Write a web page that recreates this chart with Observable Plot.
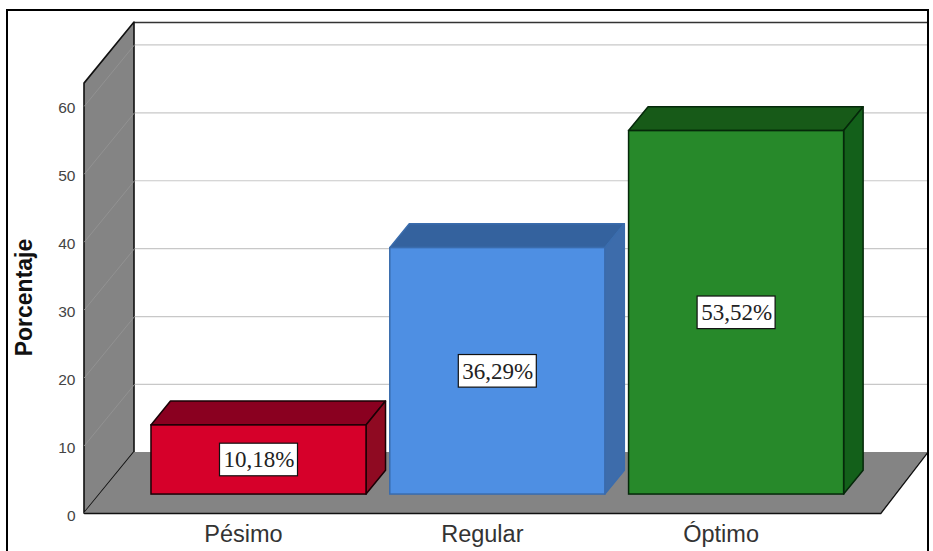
<!DOCTYPE html>
<html lang="es">
<head>
<meta charset="utf-8">
<script src="https://cdn.jsdelivr.net/npm/d3@7"></script>
<script src="https://cdn.jsdelivr.net/npm/@observablehq/plot@0.6"></script>
<style>
  html, body { margin: 0; padding: 0; background: #fff; overflow: hidden; }
  #chart { position: relative; width: 933px; height: 551px; overflow: hidden; }
  #chart svg { display: block; }
  #border { position: absolute; left: 6px; top: 9px; width: 919px; height: 600px; border: 2px solid #000; pointer-events: none; }
</style>
</head>
<body>
<div id="chart"><div id="border"></div></div>
<script>
// Survey results: share of answers per rating
const categories = ["Pésimo", "Regular", "Óptimo"];
const percentages = [10.18, 36.29, 53.52];
const valueLabels = ["10,18%", "36,29%", "53,52%"];
const yTicks = [0, 10, 20, 30, 40, 50, 60];

const frontColors = ["#d6002a", "#4e8fe3", "#27892a"];
const topColors = ["#8a0020", "#34629e", "#175a18"];
const sideColors = ["#8f0a22", "#3d6cab", "#13601a"];
const edgeColors = ["#1a0005", "#3a6cad", "#05280a"];

// Oblique projection: a point at depth d (0 front, 1 back) shifts by d * (depthX, depthY)
const depthX = 50 / 240;
const depthY = 9;
const slotStep = 0.995;
const floorLeft = -0.1625;
const floorRight = 3.155;
const backRight = floorRight + depthX - 0.012;
const wallTop = 63.3;
const barFront = 0.31;
const barBack = 0.7;
const barHalf = 0.448;
const boxHalfX = 0.1625;
const boxHalfY = 2.4;

const bars = categories.map((name, i) => ({
  name,
  value: percentages[i],
  label: valueLabels[i],
  center: 0.5 + i * slotStep,
  front: frontColors[i],
  top: topColors[i],
  side: sideColors[i],
  edge: edgeColors[i]
}));

function wallShape() {
  return [
    {x: floorLeft, y1: 0, y2: wallTop},
    {x: floorLeft + depthX, y1: depthY, y2: wallTop + depthY}
  ];
}

function floorShape() {
  return [
    {y: 0, x1: floorLeft, x2: floorRight},
    {y: depthY, x1: floorLeft + depthX, x2: backRight}
  ];
}

// The three visible faces of a bar
function barMarks(b) {
  const left = b.center - barHalf + barFront * depthX;
  const right = b.center + barHalf + barFront * depthX;
  const shiftX = (barBack - barFront) * depthX;
  const shiftY = (barBack - barFront) * depthY;
  const base = barFront * depthY;
  const top = base + b.value;
  const line = {stroke: b.edge, strokeWidth: 1.5};
  return [
    Plot.areaX([
      {y: top, x1: left, x2: right},
      {y: top + shiftY, x1: left + shiftX, x2: right + shiftX}
    ], {y: "y", x1: "x1", x2: "x2", fill: b.top, ...line, curve: "linear"}),
    Plot.areaY([
      {x: right, y1: base, y2: top},
      {x: right + shiftX, y1: base + shiftY, y2: top + shiftY}
    ], {x: "x", y1: "y1", y2: "y2", fill: b.side, ...line, curve: "linear"}),
    Plot.rect([b], {
      x1: left, x2: right, y1: base, y2: top,
      fill: b.front, ...line
    })
  ];
}

// White value box centred on the front face of a bar
function labelMarks(b) {
  const cx = b.center + barFront * depthX;
  const cy = barFront * depthY + b.value / 2;
  return [
    Plot.rect([b], {
      x1: cx - boxHalfX, x2: cx + boxHalfX,
      y1: cy - boxHalfY, y2: cy + boxHalfY,
      fill: "#fff", stroke: "#111", strokeWidth: 1.2
    }),
    Plot.text([b], {
      x: cx, y: cy, text: "label",
      fontFamily: "Liberation Serif", fontSize: 23, fill: "#222"
    })
  ];
}

const chart = Plot.plot({
  width: 933,
  height: 551,
  marginLeft: 84,
  marginRight: 3,
  marginTop: 22,
  marginBottom: 38,
  style: {fontFamily: "Liberation Sans", background: "#fff"},
  x: {domain: [floorLeft, 3.3625]},
  y: {domain: [0, wallTop + depthY]},
  marks: [
    // back wall grid and outline
    Plot.ruleY(yTicks.slice(1), {
      y: d => d + depthY,
      x1: floorLeft + depthX, x2: backRight,
      stroke: "#c8c8c8", strokeWidth: 1.2
    }),
    Plot.ruleY([wallTop + depthY], {
      x1: floorLeft + depthX, x2: backRight,
      stroke: "#333", strokeWidth: 1.5
    }),
    // left wall
    Plot.areaY(wallShape(), {x: "x", y1: "y1", y2: "y2", fill: "#848484", stroke: "#111", strokeWidth: 1.6}),
    // faint grid continuing across the left wall
    ...yTicks.slice(1).map(t => Plot.line(
      [[floorLeft, t], [floorLeft + depthX, t + depthY]],
      {stroke: "#929292", strokeWidth: 1}
    )),
    // floor
    Plot.areaX(floorShape(), {y: "y", x1: "x1", x2: "x2", fill: "#848484"}),
    Plot.line(
      [[floorLeft, 0], [floorRight, 0], [backRight, depthY]],
      {stroke: "#111", strokeWidth: 1.5}
    ),
    ...bars.flatMap(barMarks),
    ...bars.flatMap(labelMarks),
    Plot.axisY({
      ticks: yTicks, tickSize: 0, tickPadding: 9, label: null,
      fontSize: 15.5, fill: "#444", dy: 2.5
    }),
    Plot.axisX({
      ticks: bars.map(b => b.center),
      tickFormat: (d, i) => categories[i],
      tickSize: 0, tickPadding: 12, label: null,
      fontSize: 23.5, fill: "#333"
    }),
    Plot.text(["Porcentaje"], {
      x: (24 - 123) / 240, y: 31.8,
      rotate: -90, fontWeight: "bold", fontSize: 23, fill: "#111"
    })
  ]
});

document.getElementById("chart").prepend(chart);
</script>
</body>
</html>
